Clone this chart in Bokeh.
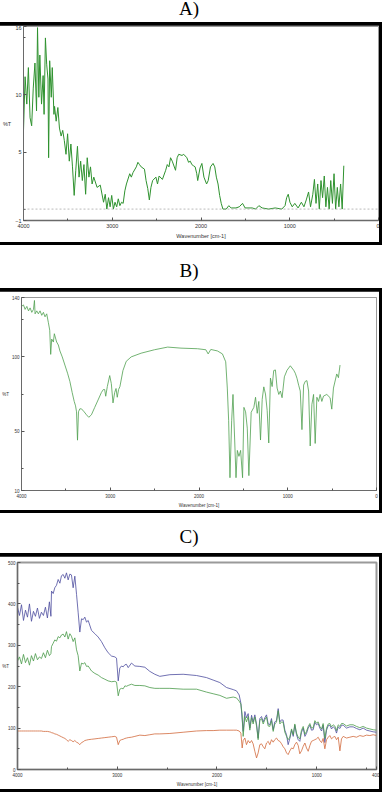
from bokeh.plotting import figure
from bokeh.models import Range1d, FixedTicker, Div, Span
from bokeh.layouts import column
from bokeh.embed import file_html
from bokeh.resources import INLINE

# ---------------- Panel A data ----------------
wn_a = [4000, 3982, 3963, 3945, 3926, 3908, 3890, 3871, 3853, 3842, 3827, 3816, 3797, 3779, 3768,
        3753, 3739, 3724, 3717, 3705, 3687, 3676, 3657, 3650, 3632, 3613, 3595, 3576, 3558, 3540,
        3521, 3503, 3484, 3466, 3448, 3429, 3411, 3392, 3374, 3356, 3337, 3319, 3300, 3282, 3263,
        3245, 3227, 3208, 3171, 3135, 3098, 3079, 3061, 3042, 3024, 3006, 2987, 2969, 2950, 2932,
        2914, 2895, 2877, 2858, 2840, 2803, 2785, 2766, 2729, 2711, 2693, 2674, 2637, 2619, 2600,
        2582, 2564, 2545, 2508, 2490, 2472, 2435, 2398, 2380, 2361, 2343, 2324, 2287, 2269, 2251,
        2214, 2195, 2159, 2140, 2121, 2103, 2085, 2066, 2048, 2037, 2011, 1990, 1967, 1937, 1919,
        1893, 1864, 1845, 1827, 1808, 1790, 1772, 1753, 1716, 1687, 1661, 1606, 1569, 1532, 1503,
        1459, 1422, 1385, 1348, 1311, 1238, 1164, 1090, 1053, 1035, 1017, 998, 972, 943, 906,
        869, 840, 814, 788, 766, 740, 722, 704, 685, 667, 648, 630, 611, 593, 575,
        556, 538, 519, 501, 483, 464, 446, 427, 409, 391]
t_a = [6.9, 11.6, 9.2, 12.4, 8.0, 7.3, 10.6, 12.8, 8.6, 15.9, 9.8, 13.5, 9.2, 11.7, 8.3,
       15.0, 12.7, 11.4, 4.5, 13.0, 9.8, 12.4, 8.3, 9.0, 7.7, 8.9, 7.1, 6.4, 6.9, 6.0,
       4.8, 6.6, 4.2, 5.7, 3.7, 1.2, 3.4, 5.5, 2.8, 4.2, 2.5, 3.9, 1.3, 4.5, 2.8,
       3.7, 2.2, 2.8, 1.9, 2.1, 0.6, 1.3, 0.0, 1.0, 0.2, 1.2, 0.0, 0.6, 0.2, 0.9,
       0.3, 0.6, 0.5, 1.6, 2.2, 3.1, 2.8, 3.2, 3.7, 4.1, 3.9, 3.7, 3.5, 2.5, 1.8,
       0.8, 1.9, 2.5, 2.8, 2.2, 2.9, 2.6, 3.4, 3.9, 3.7, 4.5, 4.2, 3.4, 4.5, 4.8,
       4.7, 4.8, 4.5, 4.1, 4.2, 3.9, 3.8, 3.7, 3.1, 2.5, 3.6, 4.0, 2.8, 2.2, 2.5,
       3.7, 4.0, 3.7, 2.8, 2.2, 1.2, 0.5, 0.0, 0.0, 0.3, 0.1, 0.1, 0.2, 0.5, 0.1,
       0.1, 0.1, 0.0, 0.3, 0.1, 0.0, 0.1, 0.0, 0.3, 1.0, 1.3, 0.6, 0.2, 0.5, 0.1,
       0.6, 0.2, 0.8, 1.5, 0.2, 1.3, 2.6, 0.5, 2.2, 0.0, 2.5, 1.0, 2.9, 0.2, 1.9,
       0.0, 2.5, 0.5, 3.1, 0.0, 1.9, 0.2, 2.2, 0.0, 3.8]

# ---------------- Panel B data ----------------
wn_b = [4000, 3978, 3959, 3940, 3921, 3903, 3884, 3865, 3854, 3847, 3828, 3810, 3791, 3772, 3753,
        3735, 3716, 3697, 3682, 3671, 3660, 3641, 3630, 3604, 3585, 3567, 3541, 3511, 3481, 3455,
        3429, 3406, 3391, 3380, 3369, 3358, 3343, 3324, 3294, 3268, 3242, 3212, 3175, 3137, 3100,
        3078, 3063, 3051, 3033, 3006, 2988, 2969, 2950, 2935, 2921, 2906, 2891, 2857, 2820, 2764,
        2652, 2502, 2353, 2203, 2017, 1923, 1897, 1867, 1792, 1736, 1699, 1681, 1666, 1651, 1632,
        1617, 1598, 1583, 1568, 1550, 1531, 1509, 1494, 1475, 1456, 1438, 1412, 1382, 1363, 1344,
        1326, 1307, 1288, 1270, 1251, 1232, 1214, 1195, 1176, 1158, 1139, 1120, 1101, 1083, 1064,
        1038, 1008, 971, 933, 915, 896, 877, 859, 840, 821, 803, 784, 765, 747, 728,
        709, 691, 672, 653, 635, 616, 597, 560, 523, 504, 485, 448, 429, 411]
t_b = [134, 135, 132, 134, 131, 133, 130, 132, 138, 129, 131, 129, 131, 128, 130,
       127, 129, 123, 118, 101.7, 112, 110, 115.6, 110, 108, 104, 100, 94.5, 89, 83.5,
       76, 70, 67, 63, 43.9, 63, 65, 65, 63, 61, 59.3, 61, 66, 71, 76,
       78, 78, 73.5, 80, 87.4, 82, 69, 76, 78.7, 72.8, 78, 80, 90.8, 97, 100,
       102.5, 104.8, 106.6, 105.9, 105.5, 104.8, 102, 105, 104, 102, 96.7, 79, 57, 18.6, 57,
       74.7, 44, 18.6, 37, 33, 37, 18.6, 66, 63, 52, 20, 62.7, 66, 72.8, 62,
       70, 44, 71.4, 79.8, 75, 64, 42, 85.7, 80, 90.8, 91.2, 79, 74.7, 77, 72.5,
       86.6, 91, 94, 91, 89, 85.6, 80.9, 77, 51, 81, 83.5, 84, 77, 40, 68,
       74.7, 41.7, 72.8, 70, 74.7, 70, 73.6, 74.7, 72.5, 64.8, 79, 88.5, 86, 94.5]

# ---------------- Panel C data ----------------
wn_c = [4000, 3980, 3960, 3940, 3920, 3900, 3880, 3860, 3840, 3820, 3800, 3780, 3760, 3740, 3720,
        3700, 3680, 3665, 3659, 3642, 3626, 3609, 3592, 3575, 3559, 3542, 3525, 3509, 3492, 3475,
        3459, 3442, 3425, 3408, 3392, 3375, 3358, 3341, 3325, 3308, 3291, 3258, 3224, 3191, 3158,
        3124, 3091, 3057, 3024, 3007, 2990, 2974, 2957, 2940, 2923, 2907, 2890, 2857, 2823, 2773,
        2723, 2673, 2623, 2573, 2472, 2339, 2205, 2105, 2038, 1971, 1904, 1837, 1804, 1777, 1760,
        1747, 1737, 1720, 1704, 1687, 1670, 1653, 1637, 1620, 1603, 1587, 1570, 1553, 1536, 1520,
        1503, 1486, 1470, 1453, 1436, 1420, 1403, 1386, 1369, 1352, 1336, 1319, 1302, 1286, 1269,
        1252, 1235, 1219, 1202, 1185, 1169, 1152, 1135, 1118, 1102, 1085, 1068, 1052, 1035, 1018,
        1002, 985, 968, 951, 935, 918, 901, 884, 868, 851, 834, 818, 801, 784, 767,
        751, 734, 701, 667, 634, 600, 567, 534, 500, 467, 433, 400]
t_c_blue = [392, 372, 398, 360, 385, 368, 400, 358, 382, 370, 390, 365, 380, 372, 392,
            366, 405, 370, 431, 425, 439, 445, 459, 450, 468, 471, 462, 475, 458, 472,
            470, 439, 467, 423, 380, 332, 364, 362, 368, 356, 360, 336, 328, 320, 309,
            294, 282, 274, 272, 269, 214, 245, 250, 248, 253, 254, 246, 257, 250, 249,
            247, 237, 230, 225, 229, 230, 227, 222, 216, 210, 198, 193, 190, 180, 160,
            120, 92, 140, 125, 135, 100, 131, 115, 132, 110, 76, 123, 128, 115, 125,
            132, 110, 108, 123, 96, 115, 118, 147, 115, 120, 119, 95, 84, 60, 75,
            95, 80, 107, 84, 72, 68, 90, 100, 80, 87, 100, 107, 95, 96, 114,
            108, 111, 100, 93, 107, 65, 95, 106, 107, 98, 103, 100, 88, 103, 99,
            107, 107, 100, 103, 103, 99, 96, 100, 95, 93, 91, 90]
t_c_green = [262, 272, 255, 278, 258, 270, 252, 275, 262, 280, 265, 272, 268, 282, 270,
             288, 275, 280, 297, 305, 313, 310, 321, 318, 325, 327, 320, 333, 315, 328,
             322, 309, 318, 289, 275, 238, 257, 255, 258, 249, 250, 238, 232, 228, 222,
             218, 214, 212, 213, 211, 178, 194, 196, 195, 202, 201, 203, 206, 203, 203,
             202, 198, 196, 196, 196, 194, 194, 187, 183, 179, 172, 175, 173, 165, 158,
             132, 80, 128, 115, 128, 95, 125, 110, 127, 105, 72, 118, 123, 110, 120,
             127, 105, 104, 118, 92, 110, 114, 142, 110, 115, 114, 90, 80, 72, 78,
             98, 84, 110, 88, 78, 74, 95, 104, 85, 92, 104, 111, 100, 101, 118,
             112, 115, 104, 98, 111, 75, 100, 110, 111, 103, 108, 105, 94, 108, 104,
             111, 111, 105, 108, 108, 104, 101, 104, 100, 98, 96, 95]
t_c_orange = [93, 93, 93, 93, 93, 93, 93, 93, 93, 93, 93, 93, 93, 92, 92,
              92, 91, 90, 89, 88, 86, 85, 83, 81, 79, 77, 75, 72, 68, 72,
              70, 67, 70, 66, 64, 60, 65, 67, 70, 71, 72, 73, 74, 75, 76,
              77, 78, 79, 80, 78, 60, 70, 72, 73, 75, 76, 77, 78, 80, 83,
              82, 84, 86, 86, 87, 90, 93, 94, 94, 95, 95, 95, 95, 93, 88,
              52, 70, 76, 60, 70, 64, 70, 62, 44, 28, 40, 60, 62, 55, 50,
              64, 68, 60, 72, 66, 72, 76, 70, 68, 62, 55, 50, 40, 36, 45,
              52, 50, 60, 66, 58, 38, 45, 56, 64, 52, 44, 58, 68, 70, 72,
              74, 78, 70, 65, 75, 50, 72, 78, 82, 74, 78, 80, 72, 78, 45,
              74, 80, 76, 78, 80, 78, 82, 80, 83, 82, 84, 82]

x_major = [4000, 3000, 2000, 1000, 0]
x_minor = [3500, 2500, 1500, 500]
xc_major = [4000, 3000, 2000, 1000, 400]
ya_major = [-1, 5, 10, 16]
ya_minor = [0, 15]
yb_major = [10, 50, 100, 140]
yb_minor = [25, 75, 125]
yc_major = [0, 100, 200, 300, 400, 500]
yc_minor = [50, 150, 250, 350, 450]

FONT = "Liberation Sans"


def make_fig(h, xr, yr, xt, xmin, yt, ymin, mb, fs, outline_w, lab_off):
    left, right, top, bottom = mb
    p = figure(width=380, height=h, x_range=Range1d(*xr), y_range=Range1d(*yr),
               output_backend="svg", toolbar_location=None,
               min_border_left=left, min_border_right=right,
               min_border_top=top, min_border_bottom=bottom,
               border_fill_color="white", background_fill_color="white",
               outline_line_color="#9a9a9a", outline_line_width=outline_w,
               margin=(3, 3, 3, 3))
    p.grid.visible = False
    for ax in (p.xaxis[0], p.yaxis[0]):
        ax.major_tick_in = 3
        ax.major_tick_out = 0
        ax.minor_tick_in = 2
        ax.minor_tick_out = 0
        ax.major_label_text_font = FONT
        ax.major_label_text_font_size = fs
        ax.major_label_text_color = "#333333"
        ax.axis_label_text_font = FONT
        ax.axis_label_text_font_size = fs
        ax.axis_label_text_font_style = "normal"
        ax.axis_label_text_color = "#333333"
        ax.axis_line_color = "#6a6a6a"
        ax.major_tick_line_color = "#555555"
        ax.minor_tick_line_color = "#555555"
    p.xaxis.ticker = FixedTicker(ticks=xt, minor_ticks=xmin)
    p.yaxis.ticker = FixedTicker(ticks=yt, minor_ticks=ymin)
    p.xaxis.axis_label = "Wavenumber [cm-1]"
    p.yaxis.axis_label = "%T"
    p.yaxis.axis_label_orientation = "horizontal"
    p.xaxis.major_label_standoff = 3
    p.xaxis.axis_label_standoff = 2
    p.yaxis.major_label_standoff = 2
    p.yaxis.axis_label_standoff = lab_off
    return p


def boxed(p):
    return column(p, background="black", spacing=0)


def title_div(txt, h, pad):
    return Div(text=f'<div style="padding-top:{pad}px;text-align:center;width:386px;'
                    f'font-family:\'Liberation Serif\';font-size:19px;line-height:19px;color:#000">{txt}</div>',
               width=386, height=h, margin=0)


pa = make_fig(217, (4000, 0), (-1, 16), x_major, x_minor, ya_major, ya_minor,
              (17, 1, 1, 22), "5.5px", 1, 1)
pa.xaxis.axis_line_width = 1.5
pa.add_layout(Span(location=0, dimension="width", line_color="#aaaaaa",
                   line_dash="2 2", line_width=0.8))
pa.line(wn_a, t_a, line_color="#2f922f", line_width=1)

pb = make_fig(219, (4000, 0), (10, 140), x_major, x_minor, yb_major, yb_minor,
              (20, 3, 6, 16), "4.5px", 1, 0)
pb.line(wn_b, t_b, line_color="#4f9f4f", line_width=0.8)

pc = make_fig(233, (4000, 400), (0, 500), xc_major, x_minor, yc_major, yc_minor,
              (18, 3, 6, 16), "4.5px", 2, -4)
pc.line(wn_c, t_c_blue, line_color="#4d4d9e", line_width=0.8)
pc.line(wn_c, t_c_green, line_color="#4a9a4a", line_width=0.8)
pc.line(wn_c, t_c_orange, line_color="#d2693c", line_width=0.8)

layout = column(title_div("A)", 26, 3), boxed(pa),
                title_div("B)", 43, 16), boxed(pb),
                title_div("C)", 40, 14), boxed(pc),
                spacing=0, width=386, height=796,
                styles={"margin": "-4px -4px -4px -4px"})

open("out.html", "w").write(file_html(layout, INLINE))
